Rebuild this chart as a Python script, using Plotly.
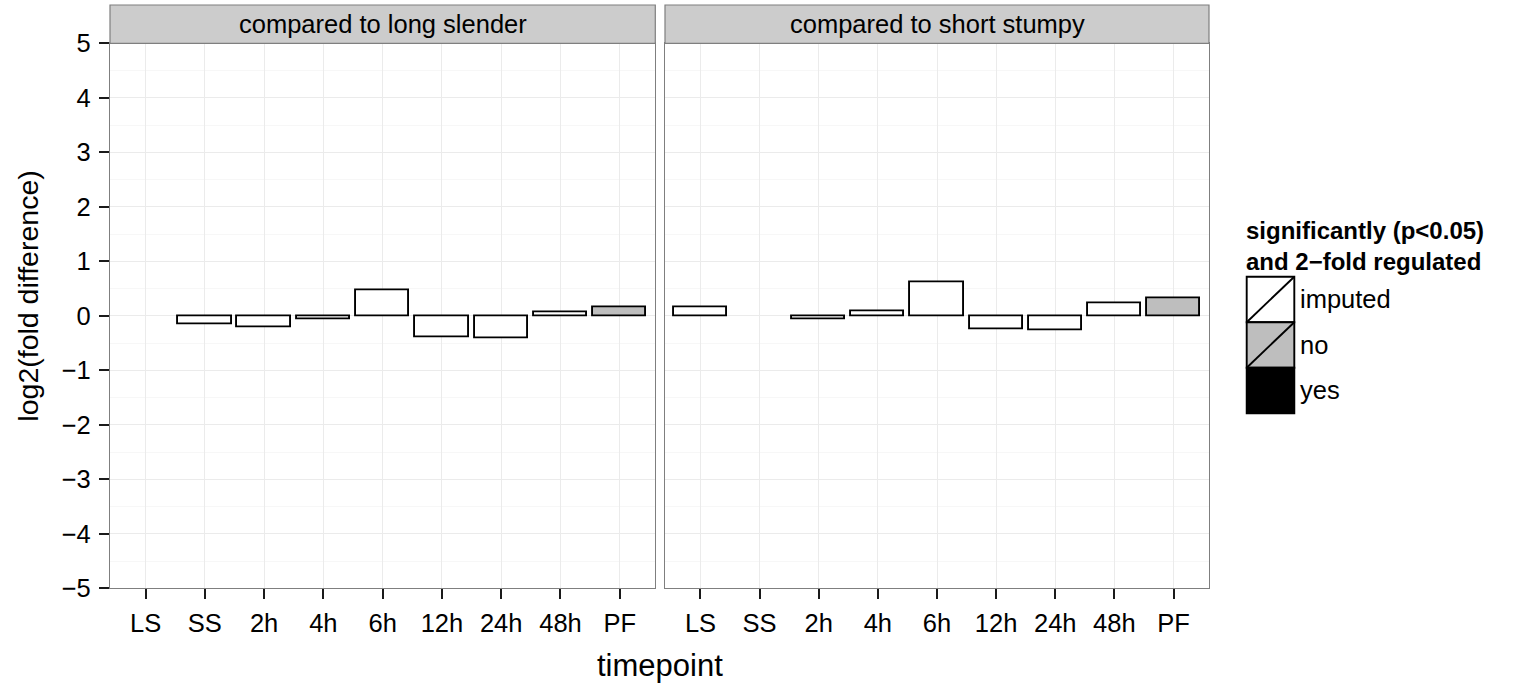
import plotly.graph_objects as go

# Timepoints along the x axis
timepoints = ["LS", "SS", "2h", "4h", "6h", "12h", "24h", "48h", "PF"]

# log2 fold differences per facet (None = reference stage, no bar)
vs_long_slender = [None, -0.15, -0.21, -0.06, 0.47, -0.40, -0.42, 0.06, 0.16]
vs_short_stumpy = [0.16, None, -0.06, 0.09, 0.62, -0.24, -0.26, 0.23, 0.32]

# Regulation status per bar
status_long_slender = [None, "imputed", "imputed", "imputed", "imputed",
                       "imputed", "imputed", "imputed", "no"]
status_short_stumpy = ["imputed", None, "imputed", "imputed", "imputed",
                       "imputed", "imputed", "imputed", "no"]

facet_titles = ["compared to long slender", "compared to short stumpy"]
legend_levels = ["imputed", "no", "yes"]
y_tick_values = [-5, -4, -3, -2, -1, 0, 1, 2, 3, 4, 5]
y_tick_labels = ["\u22125", "\u22124", "\u22123", "\u22122", "\u22121",
                 "0", "1", "2", "3", "4", "5"]

FILL = {"imputed": "#FFFFFF", "no": "#BEBEBE", "yes": "#000000"}

W, H = 1535, 687
FONT = "Liberation Sans, Arial, Helvetica, sans-serif"
TXT = 25.5


def px(x):
    return x / W


def py(y):
    return 1 - y / H


# panel geometry in pixels
panel_x = [(110, 655.3), (665, 1209)]
panel_top, panel_bottom = 43.3, 588.3
strip_top = 5

fig = go.Figure()

for i, (vals, stat) in enumerate([(vs_long_slender, status_long_slender),
                                  (vs_short_stumpy, status_short_stumpy)]):
    colors = [FILL[s] if s else "#FFFFFF" for s in stat]
    fig.add_trace(go.Bar(
        x=timepoints, y=vals,
        width=0.9,
        marker=dict(color=colors, line=dict(color="#000000", width=1.9)),
        xaxis="x" if i == 0 else "x2",
        yaxis="y" if i == 0 else "y2",
        showlegend=False,
        hoverinfo="x+y",
    ))

common_x = dict(
    type="category", categoryorder="array", categoryarray=timepoints,
    range=[-0.6, 8.6], showgrid=True, gridcolor="#EBEBEB", gridwidth=1,
    showline=True, mirror=True, linecolor="#7F7F7F", linewidth=1.2,
    ticks="outside", ticklen=10, tickwidth=1.6, tickcolor="#1A1A1A",
    ticklabelstandoff=2, automargin=False,
    tickfont=dict(family=FONT, size=TXT, color="#000000"),
    zeroline=False, fixedrange=True,
)
common_y = dict(
    range=[-5, 5], tickmode="array", tickvals=y_tick_values,
    ticktext=y_tick_labels, showgrid=True, gridcolor="#EBEBEB", gridwidth=1,
    minor=dict(dtick=0.5, tick0=0, showgrid=True, gridcolor="#F7F7F7",
               gridwidth=1, ticks=""),
    showline=True, mirror=True, linecolor="#7F7F7F", linewidth=1.2,
    zeroline=False, fixedrange=True, automargin=False,
    domain=[py(panel_bottom), py(panel_top)],
)

fig.update_layout(
    width=W, height=H, autosize=False,
    margin=dict(l=0, r=0, t=0, b=0, pad=0, autoexpand=False),
    paper_bgcolor="#FFFFFF", plot_bgcolor="#FFFFFF",
    font=dict(family=FONT, color="#000000"),
    bargap=0,
    xaxis=dict(common_x, domain=[px(panel_x[0][0]), px(panel_x[0][1])],
               anchor="y"),
    xaxis2=dict(common_x, domain=[px(panel_x[1][0]), px(panel_x[1][1])],
                anchor="y2"),
    yaxis=dict(common_y, anchor="x", ticks="outside", ticklen=10,
               tickwidth=1.6, tickcolor="#1A1A1A", ticklabelstandoff=3,
               tickfont=dict(family=FONT, size=TXT, color="#000000")),
    yaxis2=dict(common_y, anchor="x2", showticklabels=False, ticks=""),
    showlegend=False,
)

shapes = []
annotations = []

# facet strips
for (x0, x1), title in zip(panel_x, facet_titles):
    shapes.append(dict(type="rect", xref="paper", yref="paper",
                       x0=px(x0), x1=px(x1), y0=py(panel_top), y1=py(strip_top),
                       fillcolor="#CCCCCC", line=dict(color="#7F7F7F", width=1.2),
                       layer="above"))
    annotations.append(dict(text=title, xref="paper", yref="paper",
                            x=px((x0 + x1) / 2), y=py((panel_top + strip_top) / 2),
                            xanchor="center", yanchor="middle", showarrow=False,
                            font=dict(family=FONT, size=TXT, color="#000000")))

# axis titles
annotations.append(dict(text="timepoint", xref="paper", yref="paper",
                        x=px((panel_x[0][0] + panel_x[1][1]) / 2), y=py(665),
                        xanchor="center", yanchor="middle", showarrow=False,
                        font=dict(family=FONT, size=31, color="#000000")))
annotations.append(dict(text="log2(fold difference)", xref="paper", yref="paper",
                        x=px(28), y=py((strip_top + panel_bottom) / 2),
                        xanchor="center", yanchor="middle", showarrow=False,
                        textangle=-90,
                        font=dict(family=FONT, size=28.5, color="#000000")))

# legend title (two lines)
annotations.append(dict(
    text="<b>significantly (p&lt;0.05)<br>and 2\u2212fold regulated</b>",
    xref="paper", yref="paper", x=px(1244), y=py(246),
    xanchor="left", yanchor="middle", align="left", showarrow=False,
    font=dict(family=FONT, size=24, color="#000000")))

# legend keys
key_x0, key_x1 = 1246.7, 1294.3
key_top, key_h = 276.7, 45.5
for k, level in enumerate(legend_levels):
    y0 = key_top + k * key_h
    y1 = y0 + key_h
    shapes.append(dict(type="rect", xref="paper", yref="paper",
                       x0=px(key_x0), x1=px(key_x1), y0=py(y1), y1=py(y0),
                       fillcolor=FILL[level], line=dict(color="#000000", width=1.9)))
    shapes.append(dict(type="line", xref="paper", yref="paper",
                       x0=px(key_x0), x1=px(key_x1), y0=py(y1), y1=py(y0),
                       line=dict(color="#000000", width=1.9)))
    annotations.append(dict(text=level, xref="paper", yref="paper",
                            x=px(1298), y=py((y0 + y1) / 2), xanchor="left",
                            yanchor="middle", showarrow=False,
                            font=dict(family=FONT, size=TXT, color="#000000")))

fig.update_layout(shapes=shapes, annotations=annotations)

fig.write_html("out.html")
